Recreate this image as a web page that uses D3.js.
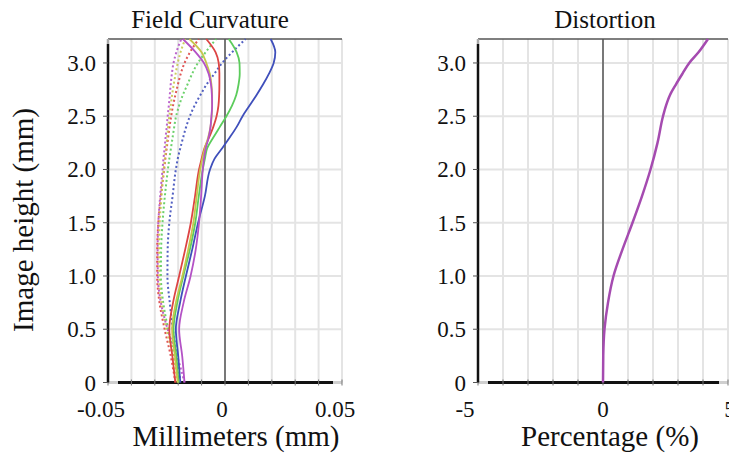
<!DOCTYPE html>
<html>
<head>
<meta charset="utf-8">
<script src="https://cdn.jsdelivr.net/npm/d3@7"></script>
<style>
  body { margin: 0; background: #fff; }
</style>
</head>
<body>
<svg id="chart" width="729" height="454"></svg>
<script>
// image heights (mm) where the field curvature curves were read
var fcHeights = [0, 0.25, 0.5, 0.75, 1.0, 1.25, 1.5, 1.75, 2.0, 2.1, 2.2, 2.3, 2.4, 2.5, 2.6, 2.7, 2.8, 2.9, 3.0, 3.1, 3.225];

// tangential (solid) curves, mm
var blueT    = [-0.0191,-0.0200,-0.0210,-0.0192,-0.0167,-0.0140,-0.0115,-0.0086,-0.0064,-0.0045,-0.0012,0.0020,0.0050,0.0075,0.0105,0.0135,0.0163,0.0188,0.0208,0.0215,0.0195];
var greenT   = [-0.0198,-0.0208,-0.0220,-0.0204,-0.0178,-0.0150,-0.0127,-0.0112,-0.0095,-0.0086,-0.0076,-0.0050,-0.0022,0.0006,0.0030,0.0048,0.0058,0.0063,0.0062,0.0050,0.0016];
var redT     = [-0.0212,-0.0225,-0.0238,-0.0222,-0.0196,-0.0170,-0.0146,-0.0128,-0.0111,-0.0100,-0.0088,-0.0068,-0.0050,-0.0036,-0.0028,-0.0025,-0.0024,-0.0024,-0.0027,-0.0040,-0.0080];
var oliveT   = [-0.0202,-0.0214,-0.0226,-0.0210,-0.0182,-0.0157,-0.0135,-0.0121,-0.0106,-0.0097,-0.0086,-0.0072,-0.0062,-0.0057,-0.0055,-0.0055,-0.0058,-0.0065,-0.0080,-0.0100,-0.0152];
var magentaT = [-0.0173,-0.0183,-0.0196,-0.0177,-0.0147,-0.0125,-0.0111,-0.0102,-0.0095,-0.0090,-0.0082,-0.0070,-0.0062,-0.0058,-0.0055,-0.0056,-0.0060,-0.0070,-0.0090,-0.0125,-0.0180];

// sagittal (dotted) curves, mm
var blueS    = [-0.0191,-0.0205,-0.0223,-0.0236,-0.0246,-0.0245,-0.0238,-0.0224,-0.0210,-0.0202,-0.0191,-0.0179,-0.0166,-0.0150,-0.0130,-0.0105,-0.0078,-0.0045,-0.0012,0.0030,0.0088];
var greenS   = [-0.0198,-0.0218,-0.0243,-0.0264,-0.0274,-0.0273,-0.0267,-0.0257,-0.0244,-0.0238,-0.0231,-0.0224,-0.0217,-0.0209,-0.0196,-0.0180,-0.0160,-0.0140,-0.0116,-0.0083,-0.0038];
var redS     = [-0.0212,-0.0232,-0.0258,-0.0280,-0.0290,-0.0290,-0.0285,-0.0274,-0.0260,-0.0255,-0.0249,-0.0243,-0.0237,-0.0230,-0.0222,-0.0212,-0.0201,-0.0189,-0.0173,-0.0150,-0.0112];
var oliveS   = [-0.0202,-0.0222,-0.0250,-0.0271,-0.0281,-0.0282,-0.0279,-0.0271,-0.0262,-0.0257,-0.0252,-0.0247,-0.0243,-0.0238,-0.0232,-0.0226,-0.0219,-0.0211,-0.0202,-0.0190,-0.0170];
var magentaS = [-0.0173,-0.0205,-0.0245,-0.0274,-0.0287,-0.0288,-0.0285,-0.0277,-0.0267,-0.0263,-0.0258,-0.0254,-0.0249,-0.0245,-0.0240,-0.0236,-0.0232,-0.0227,-0.0220,-0.0208,-0.0187];

// distortion curve
var distHeights = [0, 0.25, 0.5, 0.75, 1.0, 1.25, 1.5, 1.75, 2.0, 2.25, 2.5, 2.6, 2.7, 2.8, 2.9, 3.0, 3.1, 3.225];
var distPercent = [0, 0.01, 0.06, 0.2, 0.42, 0.78, 1.18, 1.56, 1.9, 2.18, 2.4, 2.52, 2.68, 2.92, 3.18, 3.45, 3.82, 4.2];

var yTickValues = [0, 0.5, 1.0, 1.5, 2.0, 2.5, 3.0];
var yTickLabels = ["0", "0.5", "1.0", "1.5", "2.0", "2.5", "3.0"];
var fcTickValues = [-0.05, 0, 0.05];
var fcTickLabels = ["-0.05", "0", "0.05"];
var distTickValues = [-5, 0, 5];
var distTickLabels = ["-5", "0", "5"];

var fcSeries = [
    {t: blueT, s: blueS, color: "#3f4fbb"},
    {t: greenT, s: greenS, color: "#5ccc5c"},
    {t: redT, s: redS, color: "#dd4444"},
    {t: oliveT, s: oliveS, color: "#c6c64c"},
    {t: magentaT, s: magentaS, color: "#b452c6"}
];

var serif = "'Liberation Serif', 'DejaVu Serif', serif";
var svg = d3.select("#chart").attr("font-family", serif);
var plotTop = 39, plotBottom = 382.5;
var y = d3.scaleLinear().domain([0, 3.225]).range([plotBottom, plotTop]);

var xFC = d3.scaleLinear().domain([-0.05, 0.05]).range([108, 342]);
var xD = d3.scaleLinear().domain([-5, 5]).range([478, 728]);

function addText(g, x, yy, size, anchor, str) {
    return g.append("text").attr("x", x).attr("y", yy)
        .attr("text-anchor", anchor)
        .attr("font-family", serif)
        .attr("font-size", size)
        .attr("fill", "#111")
        .text(str);
}

// p: title, titleX, labels, values, labelDx, axisTitle, axisTitleX
function drawFrame(x, p) {
    var g = svg.append("g");
    var x0 = x.range()[0], x1 = x.range()[1];

    // grid
    g.selectAll(".vgrid").data(x.ticks(10)).enter().append("line")
        .attr("x1", x).attr("x2", x)
        .attr("y1", plotTop).attr("y2", plotBottom)
        .style("stroke", "#e4e4e4").style("stroke-width", 2);
    g.selectAll(".hgrid").data(yTickValues.slice(1)).enter().append("line")
        .attr("x1", x0).attr("x2", x1)
        .attr("y1", y).attr("y2", y)
        .style("stroke", "#e4e4e4").style("stroke-width", 2);

    // zero line and top frame
    g.append("line").attr("x1", x(0)).attr("x2", x(0)).attr("y1", plotTop).attr("y2", plotBottom)
        .style("stroke", "#555").style("stroke-width", 1.5);
    g.append("line").attr("x1", x0).attr("x2", x1).attr("y1", plotTop).attr("y2", plotTop)
        .style("stroke", "#555").style("stroke-width", 1.5);

    // bottom axis: light line plus thick black bar
    g.append("line").attr("x1", x0).attr("x2", x1).attr("y1", plotBottom).attr("y2", plotBottom)
        .style("stroke", "#cfcfcf").style("stroke-width", 3);
    g.append("line").attr("x1", x0 + 10).attr("x2", x1 - 9).attr("y1", plotBottom).attr("y2", plotBottom)
        .style("stroke", "#111").style("stroke-width", 3);
    g.selectAll(".xtick").data(x.ticks(10)).enter().append("line")
        .attr("x1", x).attr("x2", x)
        .attr("y1", plotBottom - 3).attr("y2", plotBottom + 3)
        .style("stroke", "#777").style("stroke-width", 1);

    // left axis
    g.append("line").attr("x1", x0).attr("x2", x0).attr("y1", plotTop).attr("y2", plotTop + 5)
        .style("stroke", "#aaa").style("stroke-width", 2.5);
    g.append("line").attr("x1", x0).attr("x2", x0).attr("y1", plotTop + 5).attr("y2", plotBottom)
        .style("stroke", "#111").style("stroke-width", 2.5);
    g.selectAll(".ytick").data(yTickValues).enter().append("line")
        .attr("x1", x0 - 5).attr("x2", x0)
        .attr("y1", y).attr("y2", y)
        .style("stroke", "#555").style("stroke-width", 1);

    yTickValues.forEach(function(d, i) {
        addText(g, x0 - 12, y(d) + 8, 23, "end", yTickLabels[i]);
    });
    p.values.forEach(function(d, i) {
        addText(g, x(d) + p.labelDx[i], 417, 23, "middle", p.labels[i]);
    });

    addText(g, p.titleX, 28, 25, "middle", p.title);
    addText(g, p.axisTitleX, 446, 29, "middle", p.axisTitle);
}

drawFrame(xFC, {title: "Field Curvature", titleX: 210, labels: fcTickLabels, values: fcTickValues,
    labelDx: [-7, -3, -7], axisTitle: "Millimeters (mm)", axisTitleX: 236});
drawFrame(xD, {title: "Distortion", titleX: 605, labels: distTickLabels, values: distTickValues,
    labelDx: [-13, 0, 2], axisTitle: "Percentage (%)", axisTitleX: 610});

addText(svg, 0, 0, 29, "middle", "Image height (mm)")
    .attr("transform", "translate(33,220) rotate(-90)");

// field curvature curves
var fcLine = d3.line()
    .x(function(d) { return xFC(d[1]); })
    .y(function(d) { return y(d[0]); })
    .curve(d3.curveMonotoneY);

var curves = svg.append("g");
fcSeries.forEach(function(s) {
    curves.append("path")
        .attr("d", fcLine(fcHeights.map(function(h, i) { return [h, s.s[i]]; })))
        .style("fill", "none").style("stroke", s.color)
        .style("stroke-width", 2).style("stroke-dasharray", "2,2.5")
        .style("opacity", 0.9);
});
fcSeries.forEach(function(s) {
    curves.append("path")
        .attr("d", fcLine(fcHeights.map(function(h, i) { return [h, s.t[i]]; })))
        .style("fill", "none").style("stroke", s.color)
        .style("stroke-width", 1.8);
});

// distortion curve
var dLine = d3.line()
    .x(function(d) { return xD(d[1]); })
    .y(function(d) { return y(d[0]); })
    .curve(d3.curveMonotoneY);
svg.append("path")
    .attr("d", dLine(distHeights.map(function(h, i) { return [h, distPercent[i]]; })))
    .style("fill", "none").style("stroke", "#a54bb0").style("stroke-width", 2.5);
</script>
</body>
</html>
